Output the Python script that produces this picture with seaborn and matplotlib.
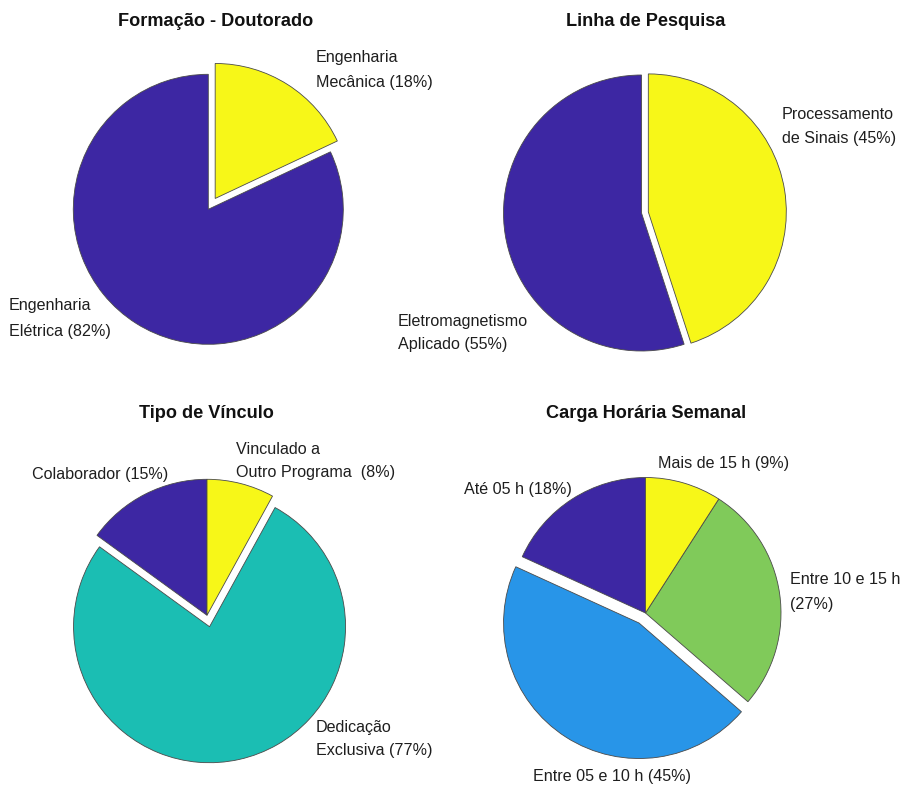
import matplotlib
matplotlib.use("Agg")
import matplotlib.pyplot as plt
import seaborn as sns

# ---- data -------------------------------------------------------------
titles = ["Formação - Doutorado", "Linha de Pesquisa",
          "Tipo de Vínculo", "Carga Horária Semanal"]

formacao_names = ["Engenharia\nElétrica", "Engenharia\nMecânica"]
formacao_values = [82, 18]

linha_names = ["Eletromagnetismo\nAplicado", "Processamento\nde Sinais"]
linha_values = [55, 45]

vinculo_names = ["Colaborador", "Dedicação\nExclusiva", "Vinculado a\nOutro Programa"]
vinculo_values = [15, 77, 8]

carga_names = ["Até 05 h", "Entre 05 e 10 h", "Entre 10 e 15 h", "Mais de 15 h"]
carga_values = [18, 45, 27, 9]

# ---- style ------------------------------------------------------------
sns.set_theme(style="white")
plt.rcParams["font.family"] = ["Liberation Sans", "DejaVu Sans"]

DARK, BLUE, TEAL, GREEN, YELLOW = "#3d27a3", "#2895e8", "#1bbeb3", "#80ca5a", "#f7f718"

W, H = 907, 786
fig = plt.figure(figsize=(W / 100, H / 100), dpi=100)
fig.patch.set_facecolor("white")

charts = [
    dict(names=formacao_names, values=formacao_values, seps=[" ", " "],
         colors=[DARK, YELLOW], explode=[0, 0.095],
         center=(208.3, 209.3), r=135,
         title_xy=(215.5, 22),
         label_xy=[(9, 318.5), (316, 70)], ls=1.85),
    dict(names=linha_names, values=linha_values, seps=[" ", " "],
         colors=[DARK, YELLOW], explode=[0, 0.05],
         center=(641.5, 213), r=138,
         title_xy=(646, 22),
         label_xy=[(398, 333), (781.5, 126.5)], ls=1.72),
    dict(names=vinculo_names, values=vinculo_values, seps=[" ", " ", "  "],
         colors=[DARK, TEAL, YELLOW], explode=[0, 0.086, 0],
         center=(207, 615.3), r=136,
         title_xy=(206.5, 414),
         label_xy=[(32, 475), (316, 739), (236, 461)], ls=1.72),
    dict(names=carga_names, values=carga_values, seps=[" ", " ", "\n", " "],
         colors=[DARK, BLUE, GREEN, YELLOW], explode=[0, 0.088, 0, 0],
         center=(645.5, 613), r=135.5,
         title_xy=(646, 413),
         label_xy=[(464, 489.5), (533, 776.5), (790, 592), (658, 464)], ls=1.82),
]

for i, ch in enumerate(charts):
    cx, cy = ch["center"]
    r = ch["r"]
    # axes over the whole canvas, scaled so one data unit equals the radius
    ax = fig.add_axes([0, 0, 1, 1])
    ax.pie(ch["values"], colors=ch["colors"], explode=ch["explode"],
           startangle=90, counterclock=True, radius=1,
           wedgeprops=dict(edgecolor="#4a4a4a", linewidth=0.6))
    ax.set_xlim(-cx / r, (W - cx) / r)
    ax.set_ylim((cy - H) / r, cy / r)
    ax.set_aspect("auto")
    ax.axis("off")

    tx, ty = ch["title_xy"]
    fig.text(tx / W, 1 - ty / H, titles[i],
             ha="center", va="center", fontsize=13.1, fontweight="bold",
             color="#111111")

    for name, sep, val, (lx, ly) in zip(ch["names"], ch["seps"],
                                         ch["values"], ch["label_xy"]):
        fig.text(lx / W, 1 - ly / H, f"{name}{sep}({val}%)",
                 ha="left", va="center", fontsize=11.6,
                 linespacing=ch["ls"], color="#1e1e1e")

fig.savefig("out.png", dpi=100, facecolor="white")
